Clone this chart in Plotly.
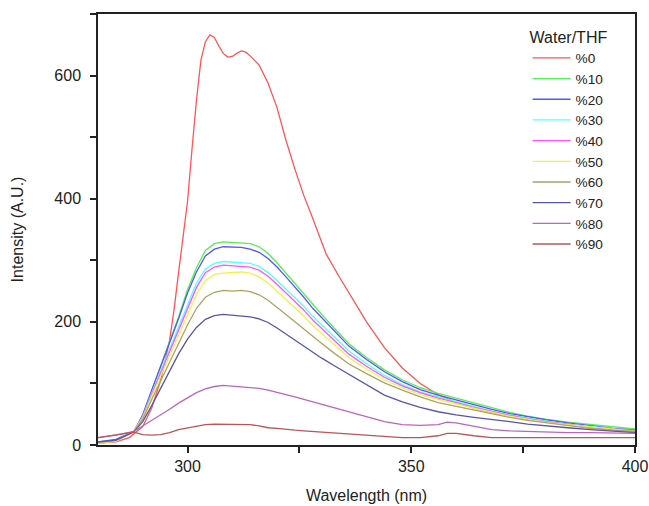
import plotly.graph_objects as go

# Emission spectra vs water fraction (Water/THF)
wavelength = [280, 284, 288, 290, 292, 294, 296, 298, 300, 302, 304, 306, 308, 310,
              312, 314, 316, 318, 320, 322, 324, 326, 328, 330, 333, 336, 340, 344,
              348, 352, 356, 358, 360, 364, 368, 372, 376, 380, 385, 390, 395, 400]

# the 0 % curve has its own finer grid around the double peak
wavelength_0 = [280, 284, 287, 290, 292, 294, 296, 297, 298, 299, 300, 301, 302, 303,
                304, 305, 306, 307, 308, 309, 310, 311, 312, 313, 314, 316, 318, 320,
                322, 324, 326, 328, 331, 334, 337, 340, 344, 348, 352, 356, 360, 364,
                368, 372, 376, 380, 385, 390, 395, 400]
int_0 = [3, 5, 12, 30, 60, 105, 170, 220, 280, 335, 395, 480, 560, 625,
         655, 666, 662, 648, 636, 630, 631, 636, 640, 638, 632, 617, 588, 548,
         495, 448, 405, 368, 310, 272, 236, 200, 158, 125, 100, 82, 69, 60,
         53, 47, 42, 38, 33, 29, 25, 21]

int_10 = [4, 8, 22, 48, 88, 128, 166, 208, 252, 288, 316, 327, 330, 329, 329, 327, 322, 311,
          296, 279, 263, 246, 228, 212, 188, 165, 142, 122, 106, 93, 84, 80, 76, 68, 60, 53,
          47, 42, 37, 33, 29, 26]
int_20 = [5, 9, 22, 49, 89, 128, 165, 205, 247, 281, 307, 318, 322, 321, 321, 318, 313, 303,
          289, 273, 257, 240, 222, 207, 183, 161, 139, 119, 103, 90, 81, 77, 73, 65, 58, 51,
          46, 41, 36, 31, 27, 24]
int_30 = [4, 7, 22, 46, 84, 120, 155, 193, 230, 263, 286, 295, 298, 297, 297, 295, 290, 280,
          267, 253, 240, 225, 209, 195, 173, 153, 132, 113, 98, 86, 78, 74, 70, 62, 55, 49,
          44, 39, 34, 30, 26, 23]
int_40 = [3, 6, 22, 45, 82, 117, 151, 188, 224, 256, 280, 289, 292, 291, 291, 289, 284, 274,
          261, 247, 234, 219, 203, 189, 168, 148, 128, 110, 96, 85, 76, 73, 69, 61, 54, 48,
          43, 38, 34, 29, 26, 23]
int_50 = [3, 6, 22, 44, 79, 112, 145, 180, 213, 244, 267, 277, 279, 280, 281, 279, 273, 263,
          250, 236, 223, 209, 194, 181, 161, 142, 123, 106, 93, 82, 74, 71, 67, 60, 53, 47,
          42, 37, 33, 29, 25, 22]
int_60 = [4, 7, 22, 42, 74, 104, 134, 164, 195, 222, 240, 248, 251, 250, 251, 249, 244, 235,
          224, 212, 200, 188, 176, 165, 148, 132, 116, 101, 89, 78, 69, 66, 63, 56, 50, 45,
          40, 36, 31, 27, 24, 22]
int_70 = [5, 8, 21, 38, 64, 92, 120, 148, 172, 191, 204, 210, 212, 211, 209, 208, 205, 199,
          190, 180, 170, 160, 150, 141, 128, 115, 97, 81, 70, 61, 54, 51, 49, 45, 42, 38,
          34, 31, 28, 25, 22, 20]
int_80 = [12, 16, 22, 31, 40, 48, 58, 68, 77, 85, 91, 95, 97, 96, 95, 94, 92, 89,
          86, 82, 78, 74, 70, 66, 60, 54, 45, 38, 33, 32, 33, 37, 36, 30, 25, 23,
          22, 21, 20, 20, 19, 19]
int_90 = [12, 17, 21, 17, 16, 17, 20, 25, 28, 31, 33, 34, 34, 34, 33, 33, 31, 28,
          27, 25, 24, 23, 22, 21, 20, 18, 17, 14, 12, 12, 15, 19, 19, 15, 12, 12,
          12, 12, 12, 12, 12, 12]

labels = ["%0", "%10", "%20", "%30", "%40", "%50", "%60", "%70", "%80", "%90"]
series = [int_0, int_10, int_20, int_30, int_40, int_50, int_60, int_70, int_80, int_90]
colors = ["#ff5555", "#55ee55", "#5555ff", "#55ffff", "#ff55ff",
          "#f2f24a", "#aaa560", "#5555aa", "#bb66bb", "#bb5555"]

FONT = "Arial, Liberation Sans, sans-serif"

fig = go.Figure()
for i, (lab, vals) in enumerate(zip(labels, series)):
    x = wavelength_0 if i == 0 else wavelength
    fig.add_trace(go.Scatter(x=x, y=vals, mode="lines", name=lab,
                             line=dict(color=colors[i], width=1.3)))

axis_style = dict(
    showline=True, linecolor="#222", linewidth=1.5, mirror=True,
    ticks="outside", ticklen=6, tickwidth=1.5, tickcolor="#222",
    showgrid=False, zeroline=False, automargin=False,
    tickfont=dict(family=FONT, size=16, color="#222"),
)

fig.update_xaxes(range=[280, 400], dtick=50,
                 minor=dict(ticks="outside", ticklen=6, dtick=25, tickcolor="#222", tickwidth=1.5),
                 title=dict(text="Wavelength (nm)", standoff=16,
                            font=dict(family=FONT, size=16, color="#222")),
                 **axis_style)
fig.update_yaxes(range=[0, 700], dtick=200, ticklabelstandoff=6,
                 minor=dict(ticks="outside", ticklen=6, dtick=100, tickcolor="#222", tickwidth=1.5),
                 title=dict(text="Intensity (A.U.)", standoff=27,
                            font=dict(family=FONT, size=16, color="#222")),
                 **axis_style)

fig.update_layout(
    width=649, height=506,
    margin=dict(l=98, r=14, t=14, b=61),
    plot_bgcolor="white", paper_bgcolor="white",
    font=dict(family=FONT, size=16, color="#222"),
    legend=dict(
        title=dict(text="Water/THF", font=dict(family=FONT, size=16)),
        x=0.80, y=0.982, xanchor="left", yanchor="top",
        bgcolor="rgba(0,0,0,0)", borderwidth=0,
        font=dict(family=FONT, size=13.6, color="#222"),
        tracegroupgap=0, itemwidth=38,
    ),
)

# drop the page's default body margin so the figure sits at the window corner
fig.write_html("out.html", config={"displayModeBar": False},
               post_script="document.body.style.margin='0';")
